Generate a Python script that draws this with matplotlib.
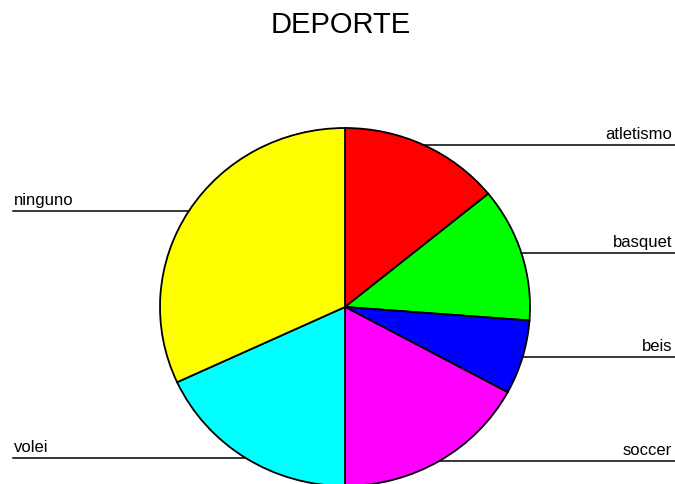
import numpy as np
import matplotlib
matplotlib.use('Agg')
import matplotlib.pyplot as plt

plt.rcParams['font.family'] = ['Liberation Sans', 'DejaVu Sans']

# Datos (porcentajes)
deportes = ['atletismo', 'basquet', 'beis', 'soccer', 'volei', 'ninguno']
valores = [14.1, 12.1, 6.7, 17.1, 18.1, 31.9]
colores = ['#FF0000', '#00FF00', '#0000FF', '#FF00FF', '#00FFFF', '#FFFF00']

fig = plt.figure(figsize=(6.75, 4.85), dpi=100)
ax = fig.add_axes([0, 0, 1, 1])

ax.pie(valores, colors=colores, startangle=90, counterclock=False,
       wedgeprops=dict(edgecolor='black', linewidth=1.3))

# limites para que el pie quede como en la imagen (rx=185px, ry=179px)
rx, ry = 185.0, 179.0
cx, cy = 345.0, 308.0
ax.set_aspect('auto')
ax.set_xlim(-cx / rx, (675 - cx) / rx)
ax.set_ylim(-(485 - cy) / ry, cy / ry)
ax.axis('off')

# etiquetas con lineas horizontales
frac = np.array(valores) / sum(valores)
fin = 90 - 360 * np.cumsum(frac)
medio = np.deg2rad(fin + 180 * frac)
x_izq, x_der = -cx / rx + 13 / rx, (675 - cx) / rx
for nombre, ang in zip(deportes, medio):
    x0, y0 = np.cos(ang), np.sin(ang)
    if x0 >= 0:
        ax.plot([x0, x_der], [y0, y0], color='black', lw=1.1, clip_on=False)
        ax.text(x_der - 3 / rx, y0 + 7 / ry, nombre, ha='right', va='baseline', fontsize=12)
    else:
        ax.plot([x_izq, x0], [y0, y0], color='black', lw=1.1, clip_on=False)
        ax.text(x_izq + 1 / rx, y0 + 7 / ry, nombre, ha='left', va='baseline', fontsize=12)

fig.text(341 / 675, 1 - 33 / 485, 'DEPORTE', ha='center', va='baseline', fontsize=21)

fig.savefig('out.png', dpi=100)
